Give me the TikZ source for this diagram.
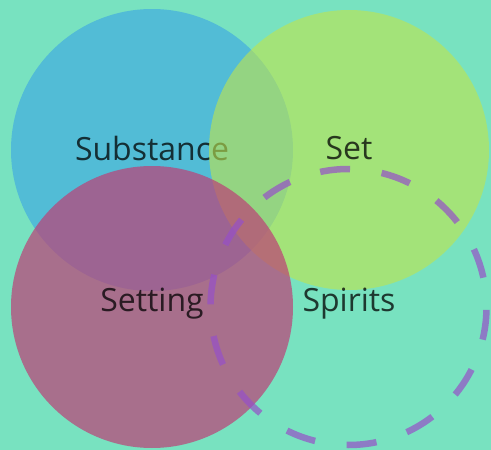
\documentclass[tikz,border=0pt]{standalone}
\usepackage{fontspec}
\setmainfont{Open Sans}
\definecolor{mint}{RGB}{120,226,192}
\definecolor{substblue}{RGB}{82,188,214}
\definecolor{setgreen}{RGB}{193,229,75}
\definecolor{settingplum}{RGB}{189,63,118}
\definecolor{spiritlilac}{RGB}{150,80,200}

\begin{document}
\begin{tikzpicture}[x=1pt,y=-1pt,
    label/.style={text=black,text opacity=0.75,font=\fontsize{32}{38}\selectfont}]

  \fill[mint] (0,0) rectangle (491,450);
  \useasboundingbox (0,0) rectangle (491,450);

  % the four circles, drawn in order so the overlaps show
  \fill[substblue] (152,150) circle (141);
  \node[label] (substance) at (152,148) {Substance};

  \fill[setgreen,fill opacity=0.6] (349,150) circle (140);
  \node[label] (set) at (349,148) {Set};

  \fill[settingplum,fill opacity=0.7] (152,307) circle (141);
  \node[label] (setting) at (152,304) {Setting};

  \draw[spiritlilac,draw opacity=0.7,line width=6.5pt,
        dash pattern=on 30pt off 31.9pt,dash phase=59pt]
    (348.5,307) circle (138);
  \node[label] (spirits) at (349,304) {Spirits};

\end{tikzpicture}
\end{document}
